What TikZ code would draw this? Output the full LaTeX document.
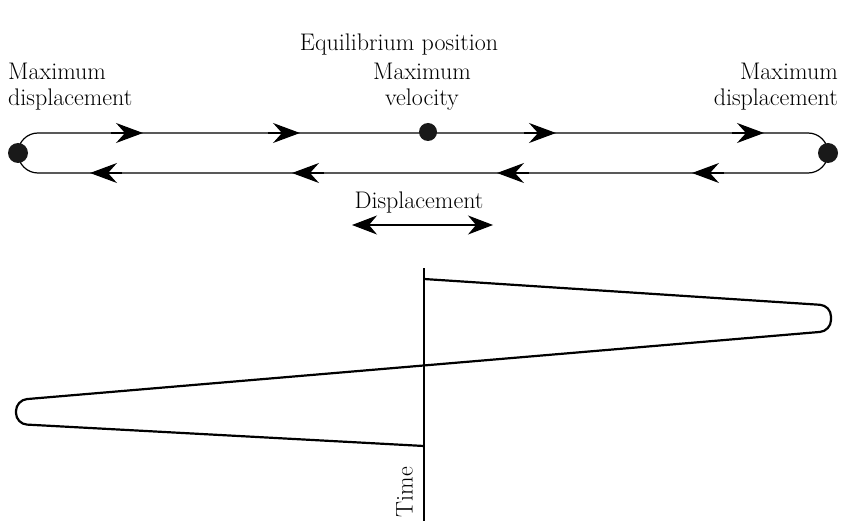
\documentclass[tikz,border=0pt]{standalone}
\usepackage{fontspec}
\usetikzlibrary{arrows.meta}
\tikzset{
  lbl/.style={inner sep=0pt, font=\fontsize{24}{24}\selectfont},
  track/.style={line width=1.2pt},
  tip/.style={line width=1.2pt, -{Stealth[length=27pt,width=20pt,inset=9pt]}},
  dot/.style={circle, fill=black!90, inner sep=0pt},
  curve/.style={line width=2.2pt, rounded corners=11pt},
}
\begin{document}
\begin{tikzpicture}[x=1pt,y=-1pt]
\useasboundingbox (0,0) rectangle (842,521);
% labels
\node[lbl, anchor=base] (eq) at (399,51) {Equilibrium position};
\node[lbl, anchor=base west] (ml1) at (8,80) {Maximum};
\node[lbl, anchor=base west] (ml2) at (8,106) {displacement};
\node[lbl, anchor=base] (mv1) at (422,80) {Maximum};
\node[lbl, anchor=base] (mv2) at (422,106) {velocity};
\node[lbl, anchor=base east] (mr1) at (838,80) {Maximum};
\node[lbl, anchor=base east] (mr2) at (838,106) {displacement};
% track
\draw[track, rounded corners=20pt] (18,133) rectangle (828,173);
\foreach \t in {143,300,556,764}{
  \draw[tip] (\t-32,133) -- (\t,133);
}
\foreach \t in {90,292,497,692}{
  \draw[tip] (\t+32,173) -- (\t,173);
}
\node[dot, minimum size=20pt] (dl) at (18,153) {};
\node[dot, minimum size=20pt] (dr) at (828,153) {};
\node[dot, minimum size=18pt] (dm) at (428,132) {};
% displacement
\node[lbl, anchor=base] (disp) at (419,208) {Displacement};
\coordinate (da) at (352,225);
\coordinate (db) at (493,225);
\draw[line width=1.2pt, {Stealth[length=25pt,width=19pt,inset=8pt]}-{Stealth[length=25pt,width=19pt,inset=8pt]}] (da) -- (db);
% time graph
\coordinate (ax1) at (424,268);
\coordinate (ax2) at (424,521);
\draw[line width=1.1pt] (ax1) -- (ax2);
\node[lbl, rotate=90, anchor=south] (time) at (413,492) {Time};
\coordinate (c0) at (424,279);
\coordinate (c1) at (831,305.5);
\coordinate (c2) at (831,331);
\coordinate (c3) at (16,400);
\coordinate (c4) at (16,424);
\coordinate (c5) at (424,446);
\draw[curve] (c0) -- (c1) -- (c2) -- (c3) -- (c4) -- (c5);
\end{tikzpicture}
\end{document}
